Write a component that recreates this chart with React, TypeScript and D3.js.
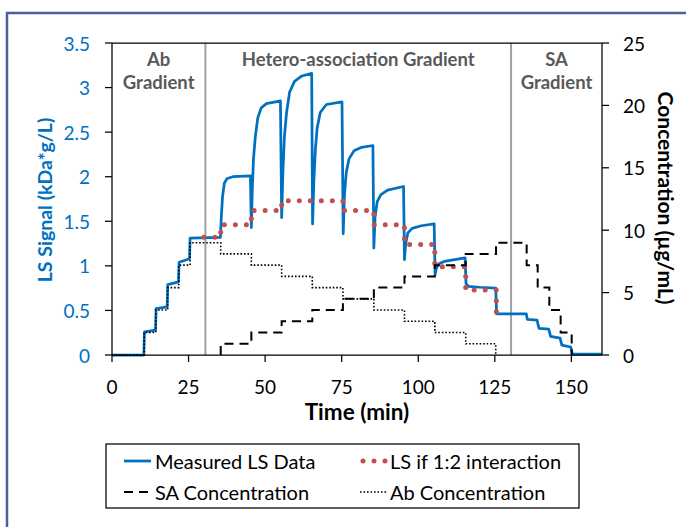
import * as d3 from "d3";

// measured light scattering signal, [time (min), kDa*g/L]
const measured: [number, number][] = [
  [0, 0], [10.4, 0], [10.6, 0.26], [14.2, 0.28], [14.4, 0.52], [18.0, 0.54], [18.2, 0.79],
  [21.7, 0.82], [21.9, 1.04], [25.3, 1.08], [25.5, 1.31], [35.4, 1.32],
  [35.7, 1.55], [36.1, 1.78], [36.7, 1.93], [37.6, 1.98], [39.5, 2.0], [45.2, 2.01],
  [45.5, 1.43], [45.8, 1.85], [46.2, 2.2], [46.8, 2.45], [47.6, 2.66], [48.7, 2.77], [50.4, 2.82], [55.0, 2.85],
  [55.4, 1.54], [55.8, 2.05], [56.3, 2.45], [57.0, 2.72], [58.0, 2.95], [59.6, 3.07], [62.0, 3.13], [65.2, 3.16],
  [65.5, 1.47], [65.9, 1.95], [66.4, 2.3], [67.0, 2.55], [68.0, 2.72], [70.0, 2.81], [75.1, 2.84],
  [75.5, 1.36], [75.9, 1.8], [76.5, 2.05], [77.4, 2.2], [79.0, 2.29], [81.5, 2.33], [85.2, 2.35],
  [85.5, 1.2], [85.9, 1.55], [86.6, 1.72], [87.8, 1.8], [90.0, 1.85], [95.2, 1.89],
  [95.5, 1.07], [95.9, 1.25], [96.6, 1.37], [98.0, 1.42], [101.0, 1.45], [105.2, 1.47],
  [105.5, 0.9], [105.9, 0.97], [106.6, 1.02], [108.5, 1.05], [115.3, 1.09],
  [115.6, 0.8], [116.4, 0.77], [120.0, 0.76], [125.3, 0.75],
  [125.6, 0.46], [135.3, 0.46], [135.6, 0.4], [138.8, 0.39], [139.4, 0.3], [142.6, 0.29],
  [143.2, 0.21], [146.3, 0.19], [146.9, 0.11], [149.8, 0.09], [150.3, 0.01], [160, 0.01],
];

// predicted LS for a 1:2 complex (step series)
const predTime = [30, 35.5, 45.5, 55.4, 65.4, 75.4, 85.5, 95.5, 105.4, 115.5, 125.5];
const predLS = [1.32, 1.46, 1.62, 1.73, 1.73, 1.62, 1.46, 1.24, 0.99, 0.73, 0.46];

// concentrations, µg/mL (step series)
const saTime = [35.5, 35.5, 45.5, 55.4, 65.4, 75.4, 85.5, 95.5, 105.4, 115.5, 125.4, 135.4, 139.0, 142.8, 146.5, 150.1];
const saConc = [0, 0.9, 1.8, 2.7, 3.6, 4.5, 5.4, 6.3, 7.2, 8.1, 9.0, 7.2, 5.4, 3.6, 1.8, 0];
const abTime = [0, 10.5, 14.3, 18.2, 21.8, 25.5, 35.5, 45.5, 55.4, 65.4, 75.4, 85.5, 95.5, 105.4, 115.5, 125.3];
const abConc = [0, 1.8, 3.6, 5.4, 7.2, 9.0, 8.1, 7.2, 6.3, 5.4, 4.5, 3.6, 2.7, 1.8, 0.9, 0];

const phaseBounds = [30.5, 130.3];
const phases = [
  { lines: ["Ab", "Gradient"], from: 0, to: 30.5 },
  { lines: ["Hetero-association Gradient"], from: 30.5, to: 130.3 },
  { lines: ["SA", "Gradient"], from: 130.3, to: 160 },
];

const xTicks = [0, 25, 50, 75, 100, 125, 150];
const lsTicks = [0, 0.5, 1, 1.5, 2, 2.5, 3, 3.5];
const concTicks = [0, 5, 10, 15, 20, 25];

const legendItems = [
  { label: "Measured LS Data", kind: "measured" },
  { label: "LS if 1:2 interaction", kind: "pred" },
  { label: "SA Concentration", kind: "sa" },
  { label: "Ab Concentration", kind: "ab" },
];

const BLUE = "#0070C0";
const RED = "#C0504D";
const FONT = "Lato, 'Open Sans', sans-serif";

export default function App() {
  const W = 686, H = 527;
  const left = 112, right = 602, top = 43, bottom = 355;

  const x = d3.scaleLinear().domain([0, 160]).range([left, right]);
  const yLS = d3.scaleLinear().domain([0, 3.5]).range([bottom, top]);
  const yC = d3.scaleLinear().domain([0, 25]).range([bottom, top]);

  const measuredLine = d3.line<[number, number]>().x(d => x(d[0])).y(d => yLS(d[1]));
  const stepLine = (ts: number[], vs: number[], y: d3.ScaleLinear<number, number>) =>
    d3.line<number>().curve(d3.curveStepAfter).x(i => x(ts[i])).y(i => y(vs[i]))(d3.range(ts.length)) || "";

  const styleFor = (kind: string) => {
    switch (kind) {
      case "measured": return { stroke: BLUE, strokeWidth: 2.75 };
      case "pred": return { stroke: RED, strokeWidth: 5, strokeDasharray: "0 11", strokeLinecap: "round" as const };
      case "sa": return { stroke: "#000", strokeWidth: 2, strokeDasharray: "9 6" };
      default: return { stroke: "#000", strokeWidth: 1.6, strokeDasharray: "1.6 1.9" };
    }
  };

  const legX = 106, legY = 444, legW = 473, legH = 64;
  const legCols = [{ sx: 124, tx: 155 }, { sx: 360, tx: 390 }];
  const legRows = [461, 492];

  return (
    <svg width={W} height={H} style={{ position: "absolute", left: 0, top: 0, background: "#fff" }}
      fontFamily={FONT}>
      <rect x={7} y={13} width={720} height={560} fill="#fff" stroke="#4A5F9C" strokeWidth={2.5} />

      {/* phase separators */}
      {phaseBounds.map(b => (
        <line key={b} x1={x(b)} x2={x(b)} y1={top} y2={bottom} stroke="#A0A0A0" strokeWidth={2} />
      ))}
      {phases.map(p => (
        <text key={p.lines.join()} x={x((p.from + p.to) / 2)} y={60} textAnchor="middle"
          fontWeight="bold" fontSize={18.5} fill="#595959">
          {p.lines.map((l, i) => (
            <tspan key={l} x={x((p.from + p.to) / 2)} dy={i === 0 ? "0.35em" : 23}>{l}</tspan>
          ))}
        </text>
      ))}

      {/* series */}
      <path d={measuredLine(measured) || ""} fill="none" {...styleFor("measured")} strokeLinejoin="round" />
      <path d={stepLine(predTime, predLS, yLS)} fill="none" {...styleFor("pred")} />
      <path d={stepLine(saTime, saConc, yC)} fill="none" {...styleFor("sa")} />
      <path d={stepLine(abTime, abConc, yC)} fill="none" {...styleFor("ab")} />

      {/* frame of plot area */}
      <line x1={left} x2={right} y1={top} y2={top} stroke="#000" strokeWidth={1.25} />
      <line x1={left} x2={left} y1={top} y2={bottom} stroke="#000" strokeWidth={1.25} />
      <line x1={right} x2={right} y1={top} y2={bottom} stroke="#000" strokeWidth={1.25} />
      <line x1={left} x2={right} y1={bottom} y2={bottom} stroke="#000" strokeWidth={1.25} />

      {/* x axis */}
      {xTicks.map(t => (
        <g key={t}>
          <line x1={x(t)} x2={x(t)} y1={bottom} y2={bottom + 7} stroke="#000" strokeWidth={1.25} />
          <text x={x(t)} y={386} textAnchor="middle" dominantBaseline="central" fontSize={19} fill="#000">{t}</text>
        </g>
      ))}
      <text x={(left + right) / 2} y={411} textAnchor="middle" dominantBaseline="central"
        fontWeight="bold" fontSize={22.5} fill="#000">Time (min)</text>

      {/* left axis */}
      {lsTicks.map(t => (
        <g key={t}>
          <line x1={left - 7} x2={left} y1={yLS(t)} y2={yLS(t)} stroke="#000" strokeWidth={1.25} />
          <text x={90} y={yLS(t)} textAnchor="end" dominantBaseline="central" fontSize={19} fill={BLUE}>{t}</text>
        </g>
      ))}
      <text transform="translate(44,200) rotate(-90)" textAnchor="middle" dominantBaseline="central"
        fontWeight="bold" fontSize={19.5} fill={BLUE}>LS Signal (kDa*g/L)</text>

      {/* right axis */}
      {concTicks.map(t => (
        <g key={t}>
          <line x1={right} x2={right + 7} y1={yC(t)} y2={yC(t)} stroke="#000" strokeWidth={1.25} />
          <text x={623} y={yC(t)} textAnchor="start" dominantBaseline="central" fontSize={19} fill="#000">{t}</text>
        </g>
      ))}
      <text transform="translate(666,198) rotate(90)" textAnchor="middle" dominantBaseline="central"
        fontWeight="bold" fontSize={21} fill="#000">Concentration (µg/mL)</text>

      {/* legend */}
      <rect x={legX} y={legY} width={legW} height={legH} fill="#fff" stroke="#000" strokeWidth={1.25} />
      {legendItems.map((it, i) => {
        const c = legCols[i % 2], r = legRows[Math.floor(i / 2)];
        return (
          <g key={it.label}>
            <line x1={c.sx + (it.kind === "pred" ? 3 : 0)} x2={c.sx + 27} y1={r} y2={r} {...styleFor(it.kind)} />
            <text x={c.tx} y={r} dominantBaseline="central" fontSize={20} fill="#000">{it.label}</text>
          </g>
        );
      })}
    </svg>
  );
}
